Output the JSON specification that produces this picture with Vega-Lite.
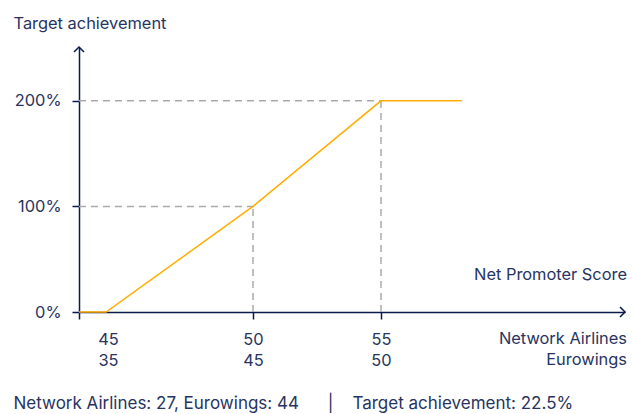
{
  "$schema": "https://vega.github.io/schema/vega-lite/v6.json",
  "width": 546,
  "height": 265,
  "autosize": "none",
  "padding": {"left": 79, "top": 47, "right": 8, "bottom": 102},
  "background": "white",
  "config": {
    "view": {"stroke": null},
    "font": "Inter",
    "text": {"font": "Inter", "fontSize": 16.4, "color": "#27345f"}
  },
  "datasets": {
    "curve": [
      {"nps": 45, "achievement": 0},
      {"nps": 45.78, "achievement": 0},
      {"nps": 50, "achievement": 100},
      {"nps": 55, "achievement": 200},
      {"nps": 58.16, "achievement": 200}
    ],
    "guides": [
      {"x1": 45, "x2": 50, "y1": 100, "y2": 100},
      {"x1": 45, "x2": 55, "y1": 200, "y2": 200},
      {"x1": 50, "x2": 50, "y1": 0, "y2": 100},
      {"x1": 55, "x2": 55, "y1": 0, "y2": 200}
    ],
    "ends": [
      {"nps": 64.53, "achievement": 0, "axis": "x"},
      {"nps": 45, "achievement": 251, "axis": "y"}
    ],
    "notes": [
      {"nps": 64.53, "achievement": 0, "top": "Net Promoter Score", "l1": "Network Airlines", "l2": "Eurowings"}
    ]
  },
  "layer": [
    {
      "data": {"name": "guides"},
      "mark": {"type": "rule", "color": "#aaaaaa", "strokeWidth": 1.5, "strokeDash": [7, 5]},
      "encoding": {
        "x": {"field": "x1", "type": "quantitative", "scale": {"domain": [45, 50, 55, 64.53], "range": [0, 174, 302, 546], "nice": false, "zero": false},
          "axis": {
            "values": [45, 50, 55],
            "grid": false,
            "domainColor": "#0a1b4d",
            "domainWidth": 1.5,
            "tickColor": "#0a1b4d",
            "tickWidth": 1.5,
            "tickSize": 7,
            "labelFont": "Inter",
            "labelFontSize": 16.4,
            "labelColor": "#27345f",
            "labelPadding": 12,
            "labelLineHeight": 21,
            "labelExpr": "datum.value == 45 ? ['45', '35'] : datum.value == 50 ? ['50', '45'] : ['55', '50']",
            "labelOffset": {"condition": {"test": "datum.value == 45", "value": 29}, "value": 0},
            "labelFlush": false,
            "labelOverlap": false,
            "title": "Network Airlines: 27, Eurowings: 44\u00a0\u00a0\u00a0\u00a0\u00a0\u00a0|\u00a0\u00a0\u00a0\u00a0Target achievement: 22.5%",
            "titleFont": "Inter",
            "titleFontSize": 17,
            "titleFontWeight": "normal",
            "titleColor": "#27345f",
            "titleAlign": "left",
            "titleBaseline": "alphabetic",
            "titleX": -66,
            "titleY": 96
          }},
        "x2": {"field": "x2"},
        "y": {"field": "y1", "type": "quantitative", "scale": {"domain": [0, 251], "nice": false},
          "axis": {
            "values": [0, 100, 200],
            "grid": false,
            "domainColor": "#0a1b4d",
            "domainWidth": 1.5,
            "tickColor": "#0a1b4d",
            "tickWidth": 1.5,
            "tickSize": 7,
            "labelFont": "Inter",
            "labelFontSize": 16.4,
            "labelColor": "#27345f",
            "labelPadding": 11,
            "labelExpr": "datum.value + '%'",
            "labelOverlap": false,
            "title": "Target achievement",
            "titleFont": "Inter",
            "titleFontSize": 16.4,
            "titleFontWeight": "normal",
            "titleColor": "#27345f",
            "titleAngle": 0,
            "titleAlign": "left",
            "titleBaseline": "alphabetic",
            "titleX": -66,
            "titleY": -19
          }},
        "y2": {"field": "y2"}
      }
    },
    {
      "data": {"name": "curve"},
      "mark": {"type": "line", "color": "#ffad00", "strokeWidth": 1.5},
      "encoding": {
        "x": {"field": "nps", "type": "quantitative"},
        "y": {"field": "achievement", "type": "quantitative"}
      }
    },
    {
      "data": {"name": "ends"},
      "transform": [{"filter": "datum.axis == 'x'"}],
      "mark": {"type": "point", "shape": "M-1,-1L0,0L-1,1", "size": 100, "filled": false, "stroke": "#0a1b4d", "strokeWidth": 1.5, "opacity": 1},
      "encoding": {
        "x": {"field": "nps", "type": "quantitative"},
        "y": {"field": "achievement", "type": "quantitative"}
      }
    },
    {
      "data": {"name": "ends"},
      "transform": [{"filter": "datum.axis == 'y'"}],
      "mark": {"type": "point", "shape": "M-1,1L0,0L1,1", "size": 100, "filled": false, "stroke": "#0a1b4d", "strokeWidth": 1.5, "opacity": 1},
      "encoding": {
        "x": {"field": "nps", "type": "quantitative"},
        "y": {"field": "achievement", "type": "quantitative"}
      }
    },
    {
      "data": {"name": "notes"},
      "mark": {"type": "text", "align": "right", "baseline": "alphabetic", "dx": 2, "dy": -32},
      "encoding": {
        "x": {"field": "nps", "type": "quantitative"},
        "y": {"field": "achievement", "type": "quantitative"},
        "text": {"field": "top"}
      }
    },
    {
      "data": {"name": "notes"},
      "mark": {"type": "text", "align": "right", "baseline": "alphabetic", "dx": 2, "dy": 32},
      "encoding": {
        "x": {"field": "nps", "type": "quantitative"},
        "y": {"field": "achievement", "type": "quantitative"},
        "text": {"field": "l1"}
      }
    },
    {
      "data": {"name": "notes"},
      "mark": {"type": "text", "align": "right", "baseline": "alphabetic", "dx": 2, "dy": 53},
      "encoding": {
        "x": {"field": "nps", "type": "quantitative"},
        "y": {"field": "achievement", "type": "quantitative"},
        "text": {"field": "l2"}
      }
    }
  ]
}
